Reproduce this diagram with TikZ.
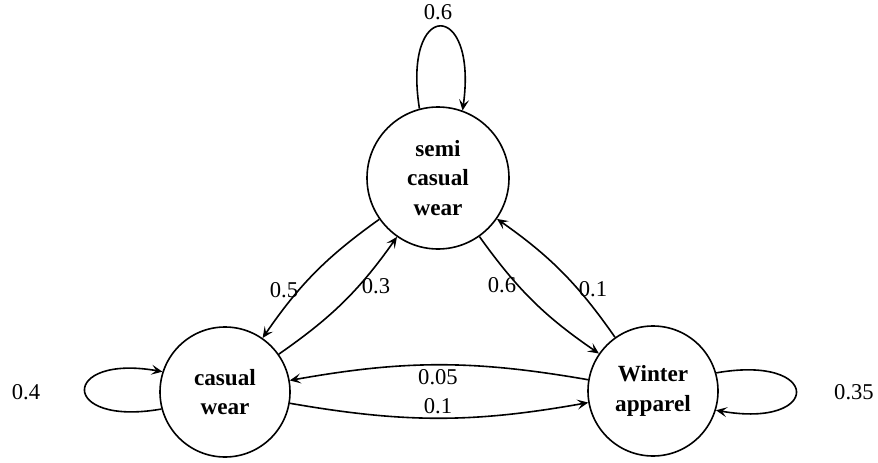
\documentclass[tikz,border=0pt]{standalone}
\usepackage{fontspec}
\setmainfont{Liberation Serif}
\usetikzlibrary{arrows.meta}
\begin{document}
\begin{tikzpicture}[x=0.5pt,y=0.5pt,
  state/.style={circle,draw,line width=0.8pt,inner sep=0pt,align=center,
    font=\fontsize{11.6}{14.6}\selectfont\bfseries},
  edge/.style={line width=0.8pt,-{Stealth[length=5.5pt,width=5pt,inset=2.4pt]}},
  prob/.style={inner sep=0pt,font=\fontsize{11.3}{13}\selectfont}]
\useasboundingbox (0,0) rectangle (878,462);
% states
\node[state,minimum size=71pt] (semi)   at (438,284) {semi\\casual\\wear};
\node[state,minimum size=65pt] (casual) at (225,70)  {casual\\wear};
\node[state,minimum size=65pt] (winter) at (653,71)  {Winter\\apparel};
% self loops
\draw[edge] (semi.105) .. controls +(99:112) and +(82:112) .. (semi.70);
\draw[edge] (casual.195) .. controls +(190:104) and +(170:104) .. (casual.162);
\draw[edge] (winter.16) .. controls +(10:108) and +(-10:108) .. (winter.-17);
% transitions
\draw[edge] (semi)   to[bend right=10] (casual);
\draw[edge] (casual) to[bend right=10] (semi);
\draw[edge] (semi)   to[bend right=10] (winter);
\draw[edge] (winter) to[bend right=10] (semi);
\draw[edge] (winter) to[bend right=10] (casual);
\draw[edge] (casual) to[bend right=10] (winter);
% probabilities
\node[prob] (pss) at (438,450) {0.6};
\node[prob] (pcc) at (26,70)   {0.4};
\node[prob] (pww) at (854,70)  {0.35};
\node[prob] (psc) at (284,172) {0.5};
\node[prob] (pcs) at (376,176) {0.3};
\node[prob] (psw) at (502,177) {0.6};
\node[prob] (pws) at (593,173) {0.1};
\node[prob] (pwc) at (438,85)  {0.05};
\node[prob] (pcw) at (438,56)  {0.1};
\end{tikzpicture}
\end{document}
